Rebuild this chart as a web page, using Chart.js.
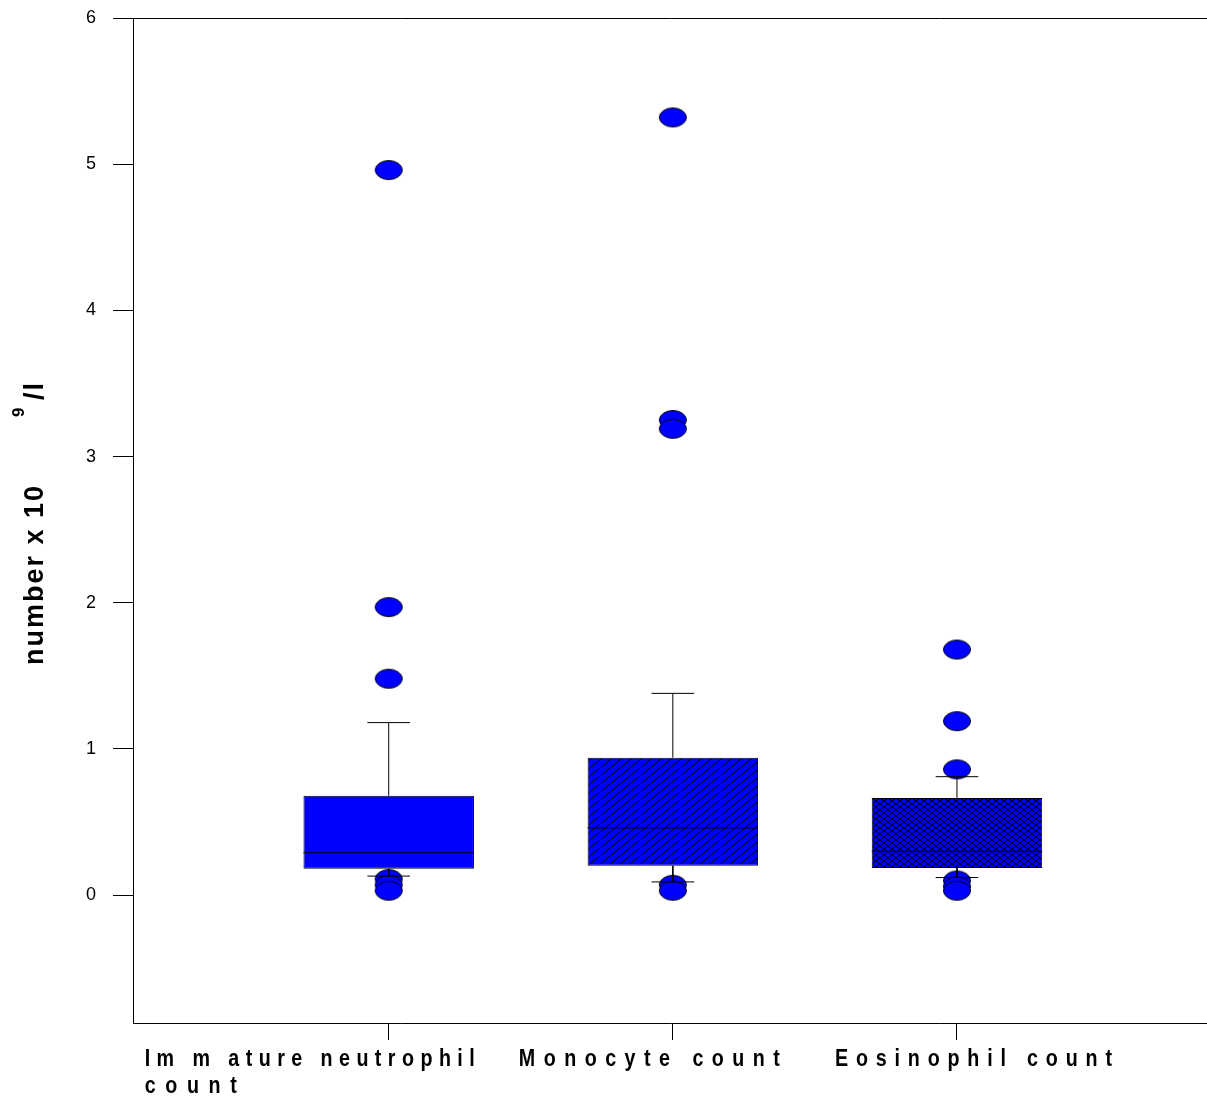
<!DOCTYPE html>
<html>
<head>
<meta charset="utf-8">
<script src="https://cdn.jsdelivr.net/npm/chart.js@4.4.1/dist/chart.umd.min.js"></script>
<style>
  html, body { margin: 0; padding: 0; background: #fff; overflow: hidden; }
  canvas { display: block; }
</style>
</head>
<body>
<canvas id="c" width="1211" height="1098"></canvas>
<script>
// Category labels (each entry is a list of text lines)
const categoryLabels = [['Im m ature neutrophil', 'count'], ['Monocyte count'], ['Eosinophil count']];
const categoryPositions = [1, 2, 3];

// Box statistics per category (number x 10^9/l)
const lowerQuartile = [0.18, 0.20, 0.185];
const upperQuartile = [0.68, 0.94, 0.665];
const medians       = [0.29, 0.46, 0.30];
const whiskerLow    = [0.13, 0.09, 0.12];
const whiskerHigh   = [1.18, 1.38, 0.81];

// Outlying observations per category
const outliersNeutrophil = [4.96, 1.97, 1.48, 0.11, 0.07, 0.03];
const outliersMonocyte   = [5.32, 3.25, 3.19, 0.07, 0.03];
const outliersEosinophil = [1.68, 1.19, 0.86, 0.10, 0.06, 0.03];
const outlierGroups = [outliersNeutrophil, outliersMonocyte, outliersEosinophil];

// Y axis tick values
const yTickValues = [0, 1, 2, 3, 4, 5, 6];

const BLUE = '#0000ff';
const BOX_HALF = 0.3;   // half box width, axis units
const CAP_HALF = 0.075; // half whisker-cap width, axis units

function makePattern(w, h, drawFn) {
  const cv = document.createElement('canvas');
  cv.width = w; cv.height = h;
  const g = cv.getContext('2d');
  g.fillStyle = BLUE;
  g.fillRect(0, 0, w, h);
  g.strokeStyle = '#000';
  g.lineWidth = 1;
  drawFn(g, w, h);
  return g.createPattern(cv, 'repeat');
}

// single diagonal hatch "/"
const hatch = makePattern(10, 8, (g, w, h) => {
  for (const dx of [-w, 0, w]) {
    g.beginPath(); g.moveTo(dx, h); g.lineTo(dx + w, 0); g.stroke();
  }
});
// cross hatch
const crossHatch = makePattern(8, 6, (g, w, h) => {
  for (const dx of [-w, 0, w]) {
    g.beginPath(); g.moveTo(dx, h); g.lineTo(dx + w, 0); g.stroke();
    g.beginPath(); g.moveTo(dx, 0); g.lineTo(dx + w, h); g.stroke();
  }
});

// ellipse marker used for outliers
const marker = document.createElement('canvas');
marker.width = 30; marker.height = 22;
(() => {
  const g = marker.getContext('2d');
  g.fillStyle = BLUE; g.strokeStyle = '#000'; g.lineWidth = 1;
  g.beginPath(); g.ellipse(15, 11, 13.5, 9.5, 0, 0, Math.PI * 2);
  g.fill(); g.stroke();
})();

// line segments built from the box statistics
const medianPts = [], whiskerPts = [], capPts = [];
categoryPositions.forEach((x, i) => {
  medianPts.push({x: x - BOX_HALF, y: medians[i]}, {x: x + BOX_HALF, y: medians[i]}, {x: x, y: null});
  whiskerPts.push({x: x, y: upperQuartile[i]}, {x: x, y: whiskerHigh[i]}, {x: x, y: null});
  whiskerPts.push({x: x, y: lowerQuartile[i]}, {x: x, y: whiskerLow[i]}, {x: x, y: null});
  capPts.push({x: x - CAP_HALF, y: whiskerHigh[i]}, {x: x + CAP_HALF, y: whiskerHigh[i]}, {x: x, y: null});
  capPts.push({x: x - CAP_HALF, y: whiskerLow[i]}, {x: x + CAP_HALF, y: whiskerLow[i]}, {x: x, y: null});
});
const outlierPts = [];
outlierGroups.forEach((vals, i) => vals.forEach(v => outlierPts.push({x: categoryPositions[i], y: v})));

const lineStyle = {type: 'line', borderColor: '#000', borderWidth: 1, pointRadius: 0, pointBorderWidth: 0, spanGaps: false, fill: false};

// letter-spaced, condensed bold text fitted to a given width
function drawSpaced(ctx, text, x, y, width, squeeze) {
  ctx.save();
  ctx.translate(x, y);
  ctx.scale(squeeze, 1);
  ctx.letterSpacing = '0px';
  const plain = ctx.measureText(text).width;
  const gaps = Math.max(text.length - 1, 1);
  const ls = (width / squeeze - plain) / gaps;
  ctx.letterSpacing = ls + 'px';
  ctx.fillText(text, 0, 0);
  ctx.restore();
}

const textPlugin = {
  id: 'textPlugin',
  afterDraw(chart) {
    const ctx = chart.ctx;
    const xs = chart.scales.x;
    ctx.save();
    ctx.fillStyle = '#000';
    ctx.textBaseline = 'alphabetic';
    ctx.textAlign = 'left';

    // category labels under the axis: shift from tick, then width of each line
    const place = [[-244, [330, 92]], [-154, [261]], [-122, [277]]];
    ctx.font = 'bold 24px "Liberation Sans", Arial, sans-serif';
    categoryLabels.forEach((lines, i) => {
      const x0 = xs.getPixelForValue(categoryPositions[i]) + place[i][0];
      lines.forEach((ln, k) => drawSpaced(ctx, ln, x0, 1066 + k * 27, place[i][1][k], 0.82));
    });

    // rotated y-axis title: number x 10^9/l
    ctx.translate(43, 665);
    ctx.rotate(-Math.PI / 2);
    ctx.font = 'bold 27px "Liberation Sans", Arial, sans-serif';
    ctx.letterSpacing = '2px';
    ctx.fillText('number x 10', 0, 0);
    ctx.font = 'bold 17px "Liberation Sans", Arial, sans-serif';
    ctx.letterSpacing = '0px';
    ctx.fillText('9', 248, -19);
    ctx.font = 'bold 27px "Liberation Sans", Arial, sans-serif';
    ctx.letterSpacing = '2px';
    ctx.fillText('/l', 265, 0);
    ctx.restore();
  }
};

const noPad = s => { s.paddingLeft = 0; s.paddingRight = 0; s.paddingTop = 0; s.paddingBottom = 0; };

new Chart(document.getElementById('c'), {
  type: 'bar',
  data: {
    datasets: [
      {
        type: 'bar',
        data: categoryPositions.map((x, i) => ({x: x, y: [lowerQuartile[i], upperQuartile[i]]})),
        backgroundColor: [BLUE, hatch, crossHatch],
        borderColor: '#000',
        borderWidth: 1,
        borderSkipped: false,
        barPercentage: 0.6,
        categoryPercentage: 1,
        grouped: false,
        order: 5
      },
      {
        type: 'scatter',
        data: outlierPts,
        pointStyle: marker,
        pointRadius: 0.5,
        borderWidth: 0,
        pointBorderWidth: 0,
        order: 4
      },
      Object.assign({data: whiskerPts, order: 2}, lineStyle),
      Object.assign({data: capPts, order: 2}, lineStyle),
      Object.assign({data: medianPts, order: 1}, lineStyle)
    ]
  },
  options: {
    responsive: false,
    animation: false,
    devicePixelRatio: 1,
    layout: {padding: {top: 18, left: 0, right: 0, bottom: 0}},
    plugins: {legend: {display: false}, tooltip: {enabled: false}},
    scales: {
      x: {
        type: 'linear',
        position: 'bottom',
        offset: false,
        min: 0.1,
        max: 3.88,
        afterBuildTicks: s => { s.ticks = categoryPositions.map(v => ({value: v})); },
        afterFit: s => { s.height = 75; noPad(s); },
        ticks: {display: false},
        grid: {offset: false, drawOnChartArea: false, drawTicks: true, tickLength: 17, color: '#000', lineWidth: 1},
        border: {display: true, color: '#000', width: 1}
      },
      xTop: {
        type: 'linear',
        position: 'top',
        offset: false,
        min: 0.1,
        max: 3.88,
        afterFit: s => { s.height = 0; noPad(s); },
        ticks: {display: false},
        grid: {display: false, offset: false},
        border: {display: true, color: '#000', width: 1}
      },
      y: {
        type: 'linear',
        min: -0.875,
        max: 6,
        afterBuildTicks: s => { s.ticks = yTickValues.map(v => ({value: v})); },
        afterFit: s => { s.width = 133; noPad(s); },
        ticks: {
          color: '#000',
          padding: 17,
          font: {family: '"Liberation Sans", Arial, sans-serif', size: 18}
        },
        grid: {drawOnChartArea: false, drawTicks: true, tickLength: 20, color: '#000', lineWidth: 1},
        border: {display: true, color: '#000', width: 1}
      }
    }
  },
  plugins: [textPlugin]
});
</script>
</body>
</html>
